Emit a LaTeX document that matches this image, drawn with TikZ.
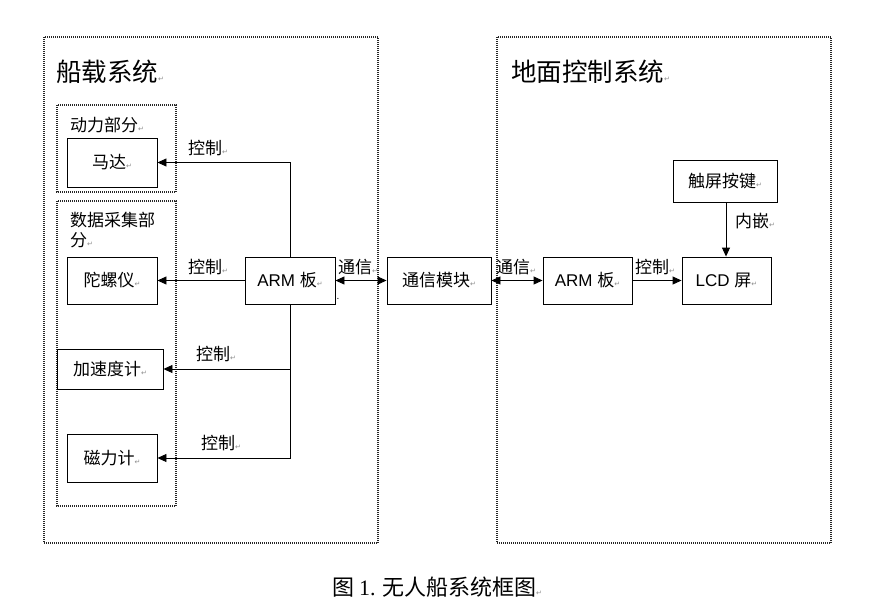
\documentclass[tikz,border=0pt]{standalone}
\usepackage{fontspec}
\setmainfont{Liberation Sans}
\newfontfamily\cjk{Noto Sans CJK SC}
\newfontfamily\dejavu{DejaVu Sans}
\newfontfamily\capserif{Liberation Serif}
\usetikzlibrary{arrows.meta}
\newcommand\parmark{{\fontsize{7}{7}\selectfont\color{black!45}\dejavu ↵}}
\begin{document}
\begin{tikzpicture}[x=1pt,y=-1pt,
  frame/.style={draw=black!85, line width=1.6pt, dash pattern=on 1pt off 1pt},
  box/.style={draw, line width=0.9pt, inner sep=0pt, font=\fontsize{17}{20}\selectfont},
  lbl/.style={inner sep=0pt, font=\fontsize{17}{20}\selectfont\cjk},
  conn/.style={line width=0.9pt},
  tip/.style={-{Triangle[length=9pt,width=8pt]}},
  dtip/.style={{Triangle[length=9pt,width=8pt]}-{Triangle[length=9pt,width=8pt]}}]
\fill[white] (0,0) rectangle (869,610);
\useasboundingbox (0,0) rectangle (869,610);
% frames
\draw[frame] (44,37) rectangle (378,543);
\draw[frame] (497,37) rectangle (831,543);
\draw[frame] (57,105) rectangle (176,192);
\draw[frame] (57,201) rectangle (176,506);
% titles
\node[anchor=west, inner sep=0pt, font=\fontsize{25.5}{28}\selectfont\cjk] (t1) at (56,72) {船载系统\parmark};
\node[anchor=west, inner sep=0pt, font=\fontsize{25.5}{28}\selectfont\cjk] (t2) at (511,72) {地面控制系统\parmark};
\node[anchor=west, lbl] (power) at (70,125) {动力部分\parmark};
\node[anchor=north west, lbl, align=left] (data) at (70,212) {\baselineskip=25pt 数据采集部\\分\parmark};
% boxes
\node[box, minimum width=90pt, minimum height=49pt] (mada) at (112,162.5) {\cjk 马达\parmark};
\node[box, minimum width=90pt, minimum height=47pt] (tuo) at (112,280.5) {\cjk 陀螺仪\parmark};
\node[box, minimum width=106pt, minimum height=40pt] (jia) at (110,369) {\cjk 加速度计\parmark};
\node[box, minimum width=90pt, minimum height=48pt] (ci) at (112,458) {\cjk 磁力计\parmark};
\node[box, minimum width=90pt, minimum height=47pt] (arm1) at (290,280.5) {ARM {\cjk 板}\parmark};
\node[box, minimum width=104pt, minimum height=47pt] (tx) at (439,280.5) {\cjk 通信模块\parmark};
\node[box, minimum width=89pt, minimum height=47pt] (arm2) at (587.5,280.5) {ARM {\cjk 板}\parmark};
\node[box, minimum width=89pt, minimum height=47pt] (lcd) at (726.5,280.5) {LCD {\cjk 屏}\parmark};
\node[box, minimum width=104pt, minimum height=42pt] (cp) at (725,181) {\cjk 触屏按键\parmark};
% connectors
\draw[conn, tip] (arm1.north) |- (mada.east);
\draw[conn, tip] (arm1.west) -- (tuo.east);
\draw[conn, tip] (arm1.south) |- (ci.east);
\draw[conn, tip] (jia.east -| arm1.south) -- (jia.east);
\draw[conn, dtip] (arm1.east) -- (tx.west);
\draw[conn, dtip] (tx.east) -- (arm2.west);
\draw[conn, tip] (arm2.east) -- (lcd.west);
\draw[conn, tip] (cp.south -| 726,0) -- (lcd.north -| 726,0);
% labels
\node[lbl] (l1) at (208,148) {控制\parmark};
\node[lbl] (l2) at (208,267) {控制\parmark};
\node[lbl] (l3) at (216,354) {控制\parmark};
\node[lbl] (l4) at (221,443) {控制\parmark};
\node[lbl] (l5) at (358,267) {通信\parmark};
\node[lbl] (l6) at (516,267) {通信\parmark};
\node[lbl] (l7) at (655,267) {控制\parmark};
\node[lbl] (l8) at (755,221) {内嵌\parmark};
\node[inner sep=0pt, font=\fontsize{10}{10}\selectfont] (dot) at (338,299) {.};
% caption
\node[inner sep=0pt, font=\fontsize{22}{24}\selectfont\cjk] (cap) at (437,587) {图 {\capserif 1.} 无人船系统框图\parmark};
\end{tikzpicture}
\end{document}
